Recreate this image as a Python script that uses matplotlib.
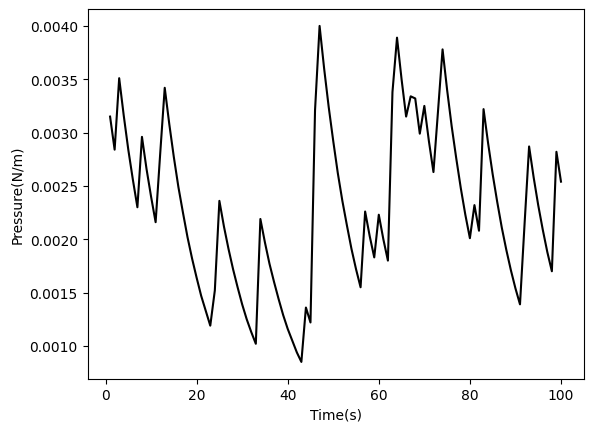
import matplotlib
matplotlib.use("Agg")
import matplotlib.pyplot as plt

time_s = list(range(1, 101))
pressure = [
    0.00315, 0.00284, 0.00351, 0.00316, 0.00284, 0.00256, 0.00230, 0.00296, 0.00266, 0.00240,
    0.00216, 0.00280, 0.00342, 0.00308, 0.00277, 0.00249, 0.00225, 0.00202, 0.00182, 0.00164,
    0.00147, 0.00133, 0.00119, 0.00152, 0.00236, 0.00212, 0.00191, 0.00172, 0.00155, 0.00139,
    0.00125, 0.00113, 0.00102, 0.00219, 0.00197, 0.00177, 0.00160, 0.00144, 0.00129, 0.00116,
    0.00105, 0.00094, 0.00085, 0.00136, 0.00122, 0.00321, 0.00400, 0.00360, 0.00324, 0.00292,
    0.00262, 0.00236, 0.00213, 0.00191, 0.00172, 0.00155, 0.00226, 0.00203, 0.00183, 0.00223,
    0.00200, 0.00180, 0.00338, 0.00389, 0.00350, 0.00315, 0.00334, 0.00332, 0.00299, 0.00325,
    0.00292, 0.00263, 0.00320, 0.00378, 0.00340, 0.00306, 0.00276, 0.00248, 0.00223, 0.00201,
    0.00232, 0.00208, 0.00322, 0.00290, 0.00261, 0.00235, 0.00211, 0.00190, 0.00171, 0.00154,
    0.00139, 0.00214, 0.00287, 0.00258, 0.00232, 0.00209, 0.00188, 0.00170, 0.00282, 0.00254,
]

fig, ax = plt.subplots(figsize=(6.4, 4.8), dpi=100)
ax.plot(time_s, pressure, color="black", linewidth=1.5)
ax.set_xlabel("Time(s)")
ax.set_ylabel("Pressure(N/m)")
fig.savefig("out.png", dpi=100, bbox_inches="tight")
